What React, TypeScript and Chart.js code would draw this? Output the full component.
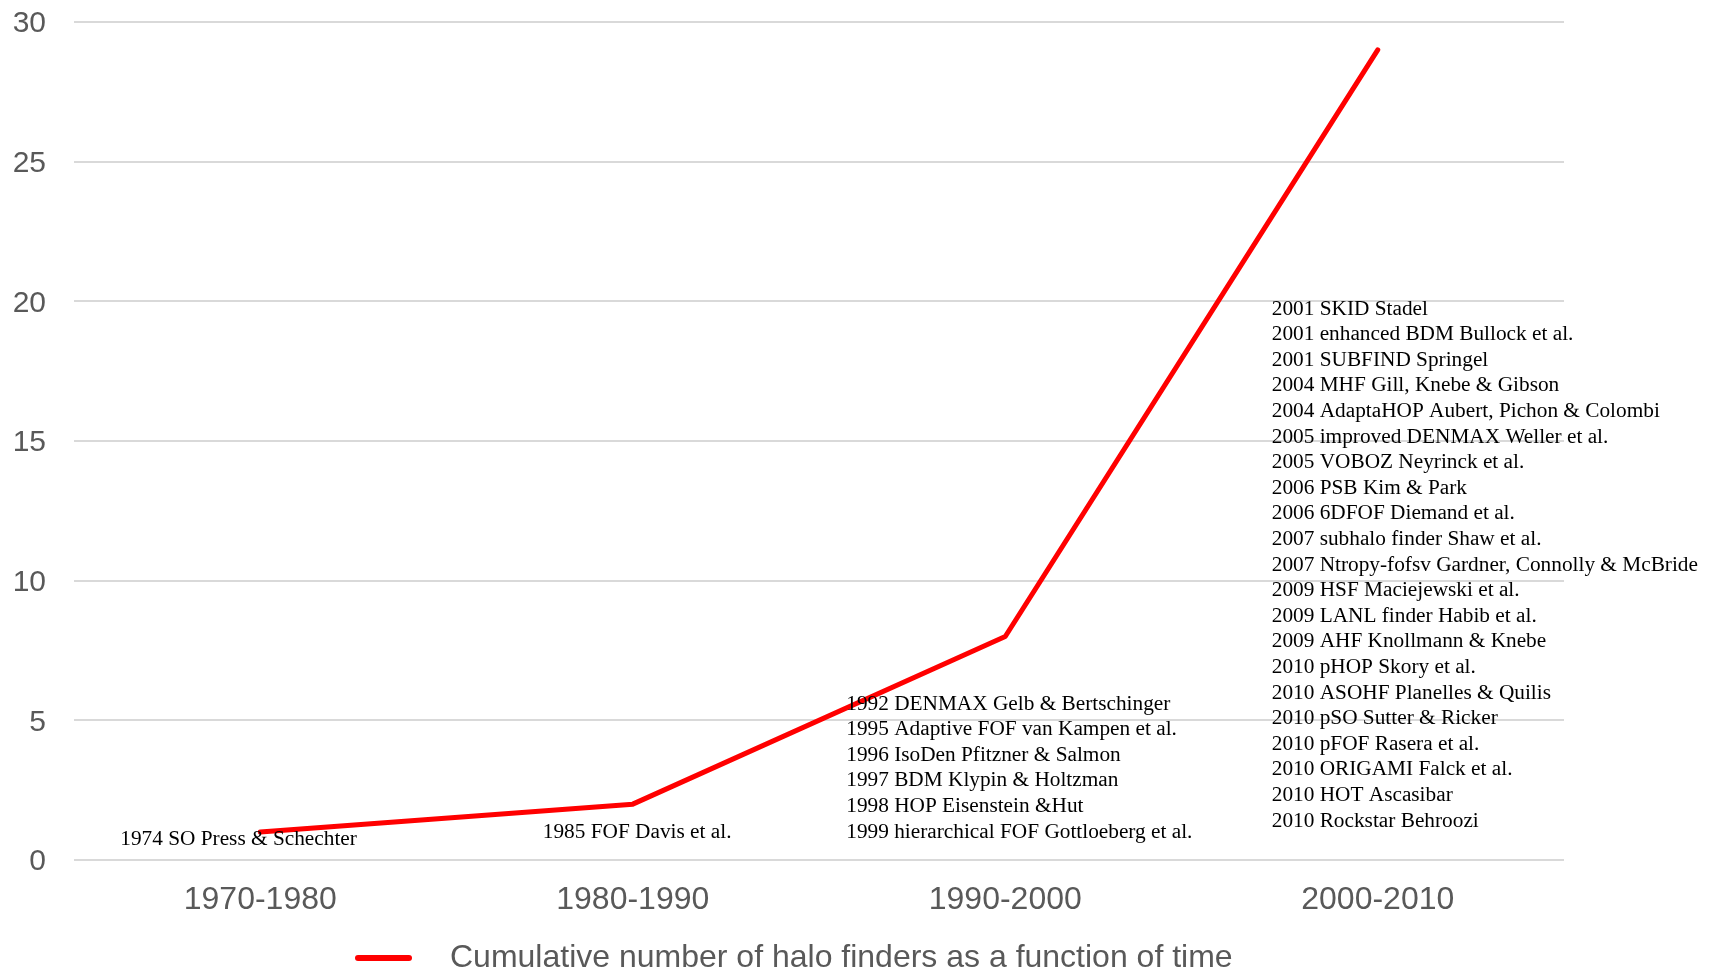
import React, { useEffect, useRef } from "react";
import { Chart, registerables } from "chart.js";

Chart.register(...registerables);

const periods = ["1970-1980", "1980-1990", "1990-2000", "2000-2010"];
const cumulativeFinders = [1, 2, 8, 29];
const seriesLabel = "Cumulative number of halo finders as a function of time";
const yTicks = [0, 5, 10, 15, 20, 25, 30];

const finders1970s = ["1974 SO Press & Schechter"];
const finders1980s = ["1985 FOF Davis et al."];
const finders1990s = [
  "1992 DENMAX Gelb & Bertschinger",
  "1995 Adaptive FOF van Kampen et al.",
  "1996 IsoDen Pfitzner & Salmon",
  "1997 BDM Klypin & Holtzman",
  "1998 HOP Eisenstein &Hut",
  "1999 hierarchical FOF Gottloeberg et al.",
];
const finders2000s = [
  "2001 SKID Stadel",
  "2001 enhanced BDM Bullock et al.",
  "2001 SUBFIND Springel",
  "2004 MHF Gill, Knebe & Gibson",
  "2004 AdaptaHOP Aubert, Pichon & Colombi",
  "2005 improved DENMAX Weller et al.",
  "2005 VOBOZ Neyrinck et al.",
  "2006 PSB Kim & Park",
  "2006 6DFOF Diemand et al.",
  "2007 subhalo finder Shaw et al.",
  "2007 Ntropy-fofsv Gardner, Connolly & McBride",
  "2009 HSF Maciejewski et al.",
  "2009 LANL finder Habib et al.",
  "2009 AHF Knollmann & Knebe",
  "2010 pHOP Skory et al.",
  "2010 ASOHF Planelles & Quilis",
  "2010 pSO Sutter & Ricker",
  "2010 pFOF Rasera et al.",
  "2010 ORIGAMI Falck et al.",
  "2010 HOT Ascasibar",
  "2010 Rockstar Behroozi",
];

const LINE_COLOR = "#FF0000";
const TEXT_GRAY = "#595959";
const SANS = "Arial, 'Liberation Sans', sans-serif";
const SERIF = "'Times New Roman', 'Liberation Serif', serif";

// Blocks of finder names written under/next to each period
const noteBlocks = [
  { index: 0, lines: finders1970s, dx: -140, bottomOffset: 21 },
  { index: 1, lines: finders1980s, dx: -90, bottomOffset: 28 },
  { index: 2, lines: finders1990s, dx: -159, bottomOffset: 28 },
  { index: 3, lines: finders2000s, dx: -106, bottomOffset: 39 },
];

const notesPlugin = {
  id: "finderNotes",
  afterDatasetsDraw(chart: any) {
    const { ctx, chartArea, scales } = chart;
    const lineH = 25.6;
    ctx.save();
    ctx.font = `21.3px ${SERIF}`;
    ctx.fillStyle = "#000000";
    ctx.textAlign = "left";
    ctx.textBaseline = "middle";
    noteBlocks.forEach((b) => {
      const x = scales.x.getPixelForValue(b.index) + b.dx;
      const lastY = chartArea.bottom - b.bottomOffset;
      const n = b.lines.length;
      b.lines.forEach((t, i) => {
        ctx.fillText(t, x, lastY - (n - 1 - i) * lineH);
      });
    });
    ctx.restore();
  },
};

const legendPlugin = {
  id: "bottomLegend",
  afterDraw(chart: any) {
    const { ctx } = chart;
    const y = 958;
    ctx.save();
    ctx.strokeStyle = LINE_COLOR;
    ctx.lineWidth = 6;
    ctx.lineCap = "round";
    ctx.beginPath();
    ctx.moveTo(358, y);
    ctx.lineTo(409, y);
    ctx.stroke();
    ctx.font = `32px ${SANS}`;
    ctx.fillStyle = TEXT_GRAY;
    ctx.textAlign = "left";
    ctx.textBaseline = "middle";
    ctx.fillText(chart.data.datasets[0].label, 450, y);
    ctx.restore();
  },
};

export default function App() {
  const canvasRef = useRef<HTMLCanvasElement | null>(null);

  useEffect(() => {
    document.body.style.margin = "0";
    const canvas = canvasRef.current;
    if (!canvas) return;
    const chart = new Chart(canvas, {
      type: "line",
      data: {
        labels: periods,
        datasets: [
          {
            label: seriesLabel,
            data: cumulativeFinders,
            borderColor: LINE_COLOR,
            backgroundColor: LINE_COLOR,
            borderWidth: 5,
            borderCapStyle: "round",
            borderJoinStyle: "round",
            pointRadius: 0,
            tension: 0,
          },
        ],
      },
      options: {
        responsive: false,
        animation: false,
        layout: { padding: { top: 22, right: 145, left: 0, bottom: 0 } },
        plugins: {
          legend: { display: false },
          tooltip: { enabled: false },
        },
        scales: {
          x: {
            offset: true,
            grid: { display: false, drawTicks: false },
            border: { display: false },
            ticks: {
              color: TEXT_GRAY,
              font: { family: SANS, size: 32 },
              padding: 21,
              maxRotation: 0,
            },
            afterFit: (axis: any) => {
              axis.height = 111;
              axis.paddingLeft = 0;
              axis.paddingRight = 0;
            },
          },
          y: {
            min: 0,
            max: 30,
            afterBuildTicks: (axis: any) => {
              axis.ticks = yTicks.map((v) => ({ value: v }));
            },
            grid: { color: "#D9D9D9", lineWidth: 2, drawTicks: false },
            border: { display: false },
            ticks: {
              color: TEXT_GRAY,
              font: { family: SANS, size: 30 },
              padding: 28,
              labelOffset: 2,
            },
            afterFit: (axis: any) => {
              axis.width = 74;
              axis.paddingTop = 0;
              axis.paddingBottom = 0;
            },
          },
        },
      },
      plugins: [notesPlugin, legendPlugin],
    });
    return () => chart.destroy();
  }, []);

  return (
    <div style={{ width: 1709, height: 971, background: "#ffffff" }}>
      <canvas ref={canvasRef} width={1709} height={971} style={{ display: "block" }} />
    </div>
  );
}
